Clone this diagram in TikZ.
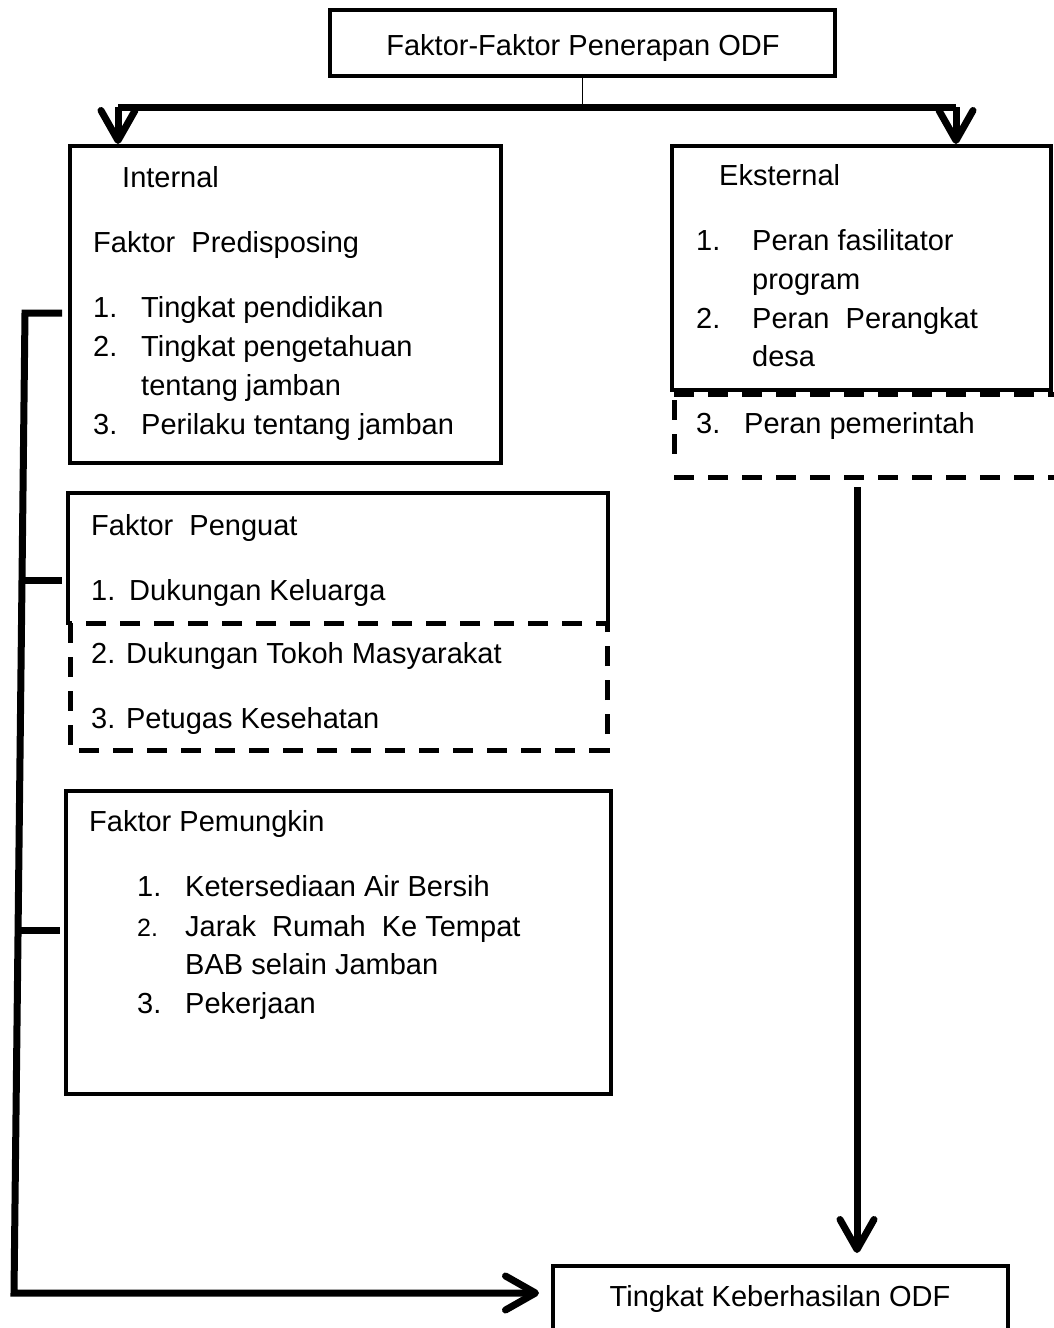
\documentclass[tikz,border=0pt]{standalone}
\usepackage{fontspec}
\setmainfont{Liberation Sans}
\usetikzlibrary{arrows.meta}
\begin{document}
\begin{tikzpicture}[x=1pt,y=-1pt,
  box/.style={draw, line width=4pt, inner sep=0pt},
  txt/.style={anchor=base west, inner sep=0pt, font=\fontsize{29}{35}\selectfont},
  ctxt/.style={anchor=base, inner sep=0pt, font=\fontsize{29}{35}\selectfont},
  thickline/.style={line width=7pt},
  chev/.style={-{Straight Barb[length=30pt,width=34pt,line cap=round,line join=round]}},
  dashline/.style={line width=5pt, dash pattern=on 20pt off 14pt}
]
\useasboundingbox[fill=white] (0,0) rectangle (1054,1328);

% boxes
\node[box, minimum width=505pt, minimum height=66pt] (title) at (582.5,43) {};
\node[box, minimum width=431pt, minimum height=317pt] (internal) at (285.5,304.5) {};
\node[box, minimum width=379pt, minimum height=244pt] (eksternal) at (861.5,268) {};
\node[inner sep=0pt, minimum width=540pt, minimum height=259pt] (penguat) at (338,622.5) {};
\node[box, minimum width=545pt, minimum height=303pt] (pemungkin) at (338.5,942.5) {};
\node[box, minimum width=455pt, minimum height=70pt] (tingkat) at (780.5,1301) {};

% penguat outline: solid upper part, dashed lower part
\draw[line width=4pt] (68,625) -- (68,493) -- (608,493) -- (608,625);
\draw[dashline] (70,623) rectangle (607,750);

% eksternal dashed extension
\draw[dashline] (674,394) -- (1054,394);
\draw[dashline] (674,400) -- (674,458);
\draw[dashline] (674,477) -- (1054,477);

% texts
\node[ctxt] (t0) at (583,55) {Faktor-Faktor Penerapan ODF};
\node[ctxt] (t1) at (780,1306) {Tingkat Keberhasilan ODF};

\node[txt] (i0) at (122,187) {Internal};
\node[txt] (i1) at (93,252) {Faktor~~Predisposing};
\node[txt] (i2a) at (93,317) {1.};
\node[txt] (i2) at (141,317) {Tingkat pendidikan};
\node[txt] (i3a) at (93,356) {2.};
\node[txt] (i3) at (141,356) {Tingkat pengetahuan};
\node[txt] (i4) at (141,395) {tentang jamban};
\node[txt] (i5a) at (93,434) {3.};
\node[txt] (i5) at (141,434) {Perilaku tentang jamban};

\node[txt] (e0) at (719,185) {Eksternal};
\node[txt] (e1a) at (696,250) {1.};
\node[txt] (e1) at (752,250) {Peran fasilitator};
\node[txt] (e2) at (752,289) {program};
\node[txt] (e3a) at (696,328) {2.};
\node[txt] (e3) at (752,328) {Peran~~Perangkat};
\node[txt] (e4) at (752,366) {desa};
\node[txt] (e5a) at (696,433) {3.};
\node[txt] (e5) at (744,433) {Peran pemerintah};

\node[txt] (p0) at (91,535) {Faktor~~Penguat};
\node[txt] (p1a) at (91,600) {1.};
\node[txt] (p1) at (129,600) {Dukungan Keluarga};
\node[txt] (p2) at (91,663) {2. Dukungan Tokoh Masyarakat};
\node[txt] (p3) at (91,728) {3. Petugas Kesehatan};

\node[txt] (m0) at (89,831) {Faktor Pemungkin};
\node[txt] (m1a) at (137,896) {1.};
\node[txt] (m1) at (185,896) {Ketersediaan Air Bersih};
\node[txt, font=\fontsize{25}{30}\selectfont] (m2a) at (137,936) {2.};
\node[txt] (m2) at (185,936) {Jarak~~Rumah~~Ke Tempat};
\node[txt] (m3) at (185,974) {BAB selain Jamban};
\node[txt] (m4a) at (137,1013) {3.};
\node[txt] (m4) at (185,1013) {Pekerjaan};

% connectors top
\coordinate (barL) at (118,107);
\coordinate (barR) at (956,107);
\draw[line width=1.5pt] (title.south) -- (title.south |- barL);
\draw[thickline] (barL) -- (barR);
\draw[thickline, chev] (barL) -- (barL |- internal.north);
\draw[thickline, chev] (barR) -- (barR |- eksternal.north);

% right vertical arrow
\coordinate (vs) at (857,487);
\draw[thickline, chev, shorten >=11pt] (vs) -- (vs |- tingkat.north);

% left bracket
\coordinate (lt) at (25,313);
\coordinate (lb) at (14,1293);
\draw[thickline, chev, shorten >=12pt] (62,313) -- (lt) -- (lb) -- (tingkat.west |- lb);
\draw[thickline] (22,580) -- (62,580);
\draw[thickline] (18,930) -- (60,930);
\end{tikzpicture}
\end{document}
